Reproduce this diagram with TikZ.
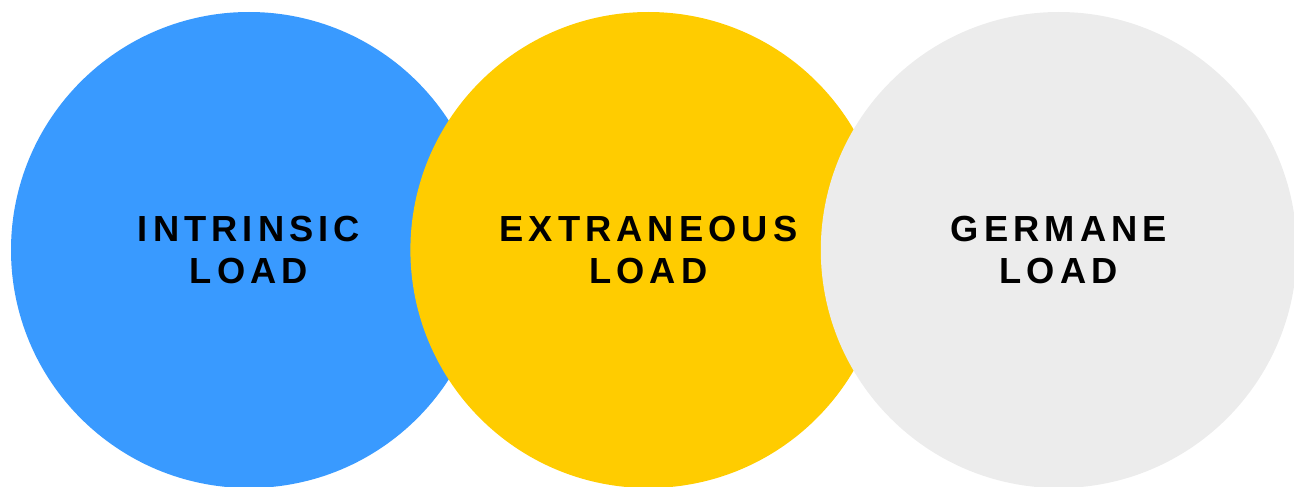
\documentclass[tikz,border=0pt]{standalone}
\usepackage{fontspec}
\newfontfamily\loadfont{Liberation Sans}[LetterSpace=14]
\usetikzlibrary{positioning}
\definecolor{loadblue}{RGB}{57,154,255}
\definecolor{loadyellow}{RGB}{255,204,0}
\definecolor{loadgray}{RGB}{236,236,236}

\begin{document}
\begin{tikzpicture}[x=1pt, y=-1pt,
		load/.style={circle, inner sep=0pt, minimum size=476pt, align=center,
			font=\loadfont\bfseries\fontsize{36.3}{42}\selectfont},
		]
		\useasboundingbox (0,0) rectangle (1294,487);
		\node [load, fill=loadblue] (intrinsic) at (249,250) {INTRINSIC\\LOAD};
		\node [load, fill=loadyellow] (extraneous) [right=-77pt of intrinsic] {EXTRANEOUS\\LOAD};
		\node [load, fill=loadgray] (germane) [right=-66pt of extraneous] {GERMANE\\LOAD};
	\end{tikzpicture}
\end{document}
